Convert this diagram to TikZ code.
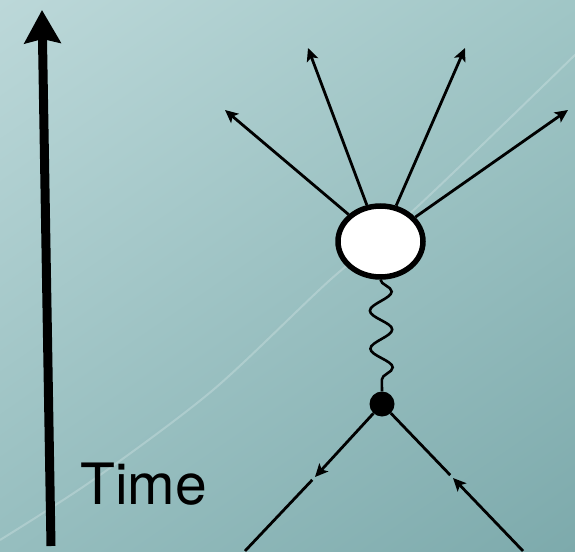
\documentclass[tikz,border=0pt]{standalone}
\usepackage{fontspec}
\setmainfont{TeX Gyre Heros}
\usetikzlibrary{arrows.meta,shapes.geometric,shadings,decorations.pathmorphing}
\definecolor{bgul}{RGB}{188,216,217}
\definecolor{bgur}{RGB}{160,198,198}
\definecolor{bgll}{RGB}{150,190,191}
\definecolor{bglr}{RGB}{125,170,172}

\begin{document}
\begin{tikzpicture}[x=1pt,y=-1pt,
  blobst/.style={ellipse,draw,fill=white,line width=5.5pt,inner sep=0pt,
                 minimum width=85pt,minimum height=71pt},
  vtxst/.style={circle,fill=black,inner sep=0pt,minimum size=25pt},
  tax/.style={line width=9pt,-{Stealth[length=33pt,width=36pt,inset=4pt]}},
  ar/.style={line width=2.8pt,-{Stealth[length=13pt,width=12pt,inset=3pt]}},
  fl/.style={line width=2.8pt},
  gl/.style={line width=2.6pt,decorate,
             decoration={snake,amplitude=11pt,segment length=38pt}}]
\useasboundingbox (0,0) rectangle (575,551);
% background
\shade[upper left=bgul,upper right=bgur,lower left=bgll,lower right=bglr]
  (0,0) rectangle (575,551);
\draw[white,opacity=0.22,line width=2pt] plot[smooth] coordinates
  {(578,52) (417,207) (330,280) (213,390) (93,480) (0,540)};
% time axis
\coordinate (t0) at (51,546);
\coordinate (t1) at (42,10);
\draw[tax] (t0) -- (t1);
\node[anchor=base west,inner sep=0pt,font=\fontsize{57}{60}\selectfont]
  (lbl) at (80,504) {Time};
% blob and vertex
\node[blobst] (blob) at (380.5,241.5) {};
\node[vtxst] (vtx) at (382,404) {};
\draw[gl] (blob.south) -- (vtx.north);
% outgoing particles
\foreach \x/\y [count=\i] in {225/110,308/48,465/48,568/110}
  \coordinate (o\i) at (\x,\y);
\foreach \i in {1,...,4} \draw[ar] (blob) -- (o\i);
% incoming lines
\coordinate (bl) at (245,551);
\coordinate (br) at (523,551);
\coordinate (ml) at (315,477);
\coordinate (mr) at (453,478);
\draw[ar] (vtx) -- (ml);
\draw[fl,shorten <=4pt] (ml) -- (bl);
\draw[ar] (br) -- (mr);
\draw[fl,shorten <=4pt] (mr) -- (vtx);
\end{tikzpicture}
\end{document}
